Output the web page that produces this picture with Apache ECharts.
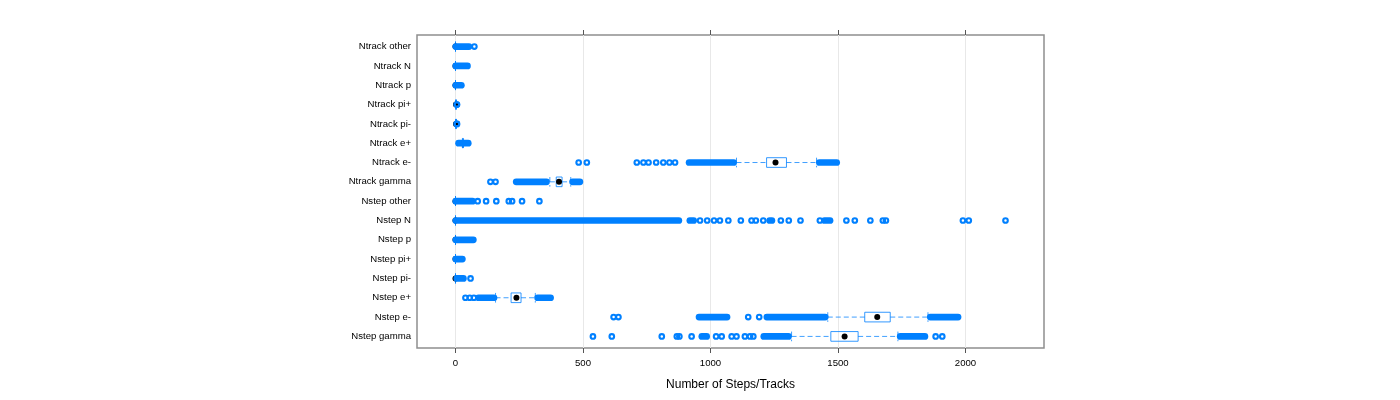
<!DOCTYPE html>
<html>
<head>
<meta charset="utf-8">
<script src="https://cdn.jsdelivr.net/npm/echarts@6/dist/echarts.min.js"></script>
<style>html,body{margin:0;padding:0;background:#fff}#c{width:1400px;height:400px}</style>
</head>
<body>
<div id="c"></div>
<script>
// ---- data ----
const categories = ['Ntrack other','Ntrack N','Ntrack p','Ntrack pi+','Ntrack pi-','Ntrack e+','Ntrack e-','Ntrack gamma',
  'Nstep other','Nstep N','Nstep p','Nstep pi+','Nstep pi-','Nstep e+','Nstep e-','Nstep gamma'];
const lowerWhisker = [0,0,0,0,0,27,1102,370,0,0,0,0,0,157,1460,1318];
const lowerHinge   = [0,0,0,1,1,28,1220,395,0,0,0,0,0,218,1605,1472];
const medians      = [0,0,0,2,2,29,1255,406,0,0,0,0,0,239,1654,1526];
const upperHinge   = [0,0,0,3,3,30,1298,418,0,0,0,0,0,257,1705,1579];
const upperWhisker = [0,0,0,4,4,31,1416,452,0,0,0,0,0,313,1853,1735];
// dense runs of overlapping outliers [from, to]
const outlierRuns = [
  [[1,53]], [[1,47]], [[1,23]], [], [], [[12,26],[32,50]],
  [[916,1091],[1427,1495]], [[238,357],[459,488]],
  [[1,67]], [[1,876],[919,934],[1232,1241],[1447,1469]],
  [[1,70]], [[1,27]], [[5,31]], [[90,151],[322,373]],
  [[955,1065],[1221,1450],[1862,1971]], [[966,985],[1209,1306],[1744,1841]]
];
// individually visible outliers
const outlierPoints = [
  [74], [], [], [5,6], [5,6], [],
  [483,515,711,737,757,787,815,839,861],
  [137,157],
  [87,120,160,209,222,261,329],
  [959,987,1014,1037,1070,1119,1161,1178,1207,1276,1307,1353,1429,1533,1566,1627,1676,1688,1990,2013,2157],
  [], [], [59], [39,56,72],
  [620,639,1148,1191],
  [539,613,809,868,878,926,1022,1044,1083,1102,1135,1155,1168,1883,1909]
];
const xTicks = [0,500,1000,1500,2000];
const xTitle = 'Number of Steps/Tracks';

// ---- build ----
const BLUE = '#0080ff';
const boxData = categories.map((c,i)=>[i+1, lowerWhisker[i], lowerHinge[i], medians[i], upperHinge[i], upperWhisker[i]]);
const runData = [];
outlierRuns.forEach((runs,i)=>runs.forEach(r=>runData.push([i+1, r[0], r[1]])));
const pointData = [];
outlierPoints.forEach((pts,i)=>pts.forEach(v=>pointData.push([v, i+1])));

const chart = echarts.init(document.getElementById('c'), null, {renderer:'canvas'});
const font = 'Liberation Sans, Arial, Helvetica, sans-serif';
const xAxisCommon = {type:'value', min:-151, max:2308, axisLine:{show:false}};
chart.setOption({
  animation:false,
  grid:{left:417, right:356, top:35, bottom:52, show:true, borderColor:'#8f8f8f', borderWidth:1.5, backgroundColor:'transparent'},
  xAxis:[
    Object.assign({}, xAxisCommon, {
      position:'bottom',
      name:xTitle, nameLocation:'middle', nameGap:31,
      nameTextStyle:{fontFamily:font, fontSize:12, color:'#000'},
      axisTick:{show:true, inside:false, length:5, customValues:xTicks, lineStyle:{color:'#555'}},
      axisLabel:{customValues:xTicks, margin:10, fontFamily:font, fontSize:9.6, color:'#000', formatter:v=>String(v)},
      splitLine:{show:true, lineStyle:{color:'#e8e8e8', width:1}}
    }),
    Object.assign({}, xAxisCommon, {
      position:'top',
      axisTick:{show:true, inside:false, length:5, customValues:xTicks, lineStyle:{color:'#555'}},
      axisLabel:{show:false, customValues:xTicks},
      splitLine:{show:false}
    })
  ],
  yAxis:{type:'value', min:0.4, max:16.6, inverse:true,
    axisLine:{show:false}, axisTick:{show:false}, splitLine:{show:false},
    axisLabel:{customValues:categories.map((c,i)=>i+1), margin:6, fontFamily:font, fontSize:9.6, color:'#000',
      formatter:v=>categories[Math.round(v)-1]}
  },
  series:[
    {
      type:'custom', z:2, xAxisIndex:0, data:boxData,
      renderItem:(params, api)=>{
        const row = api.value(0);
        const lw=api.coord([api.value(1),row]), q1=api.coord([api.value(2),row]),
              md=api.coord([api.value(3),row]), q3=api.coord([api.value(4),row]), uw=api.coord([api.value(5),row]);
        const h = api.size([0,1])[1]*0.5;
        const y = lw[1];
        const dash = {stroke:BLUE, lineWidth:1, lineDash:[5,3], opacity:0.75};
        return {type:'group', children:[
          {type:'line', shape:{x1:lw[0],y1:y,x2:q1[0],y2:y}, style:dash},
          {type:'line', shape:{x1:q3[0],y1:y,x2:uw[0],y2:y}, style:dash},
          {type:'line', shape:{x1:lw[0],y1:y-h/2,x2:lw[0],y2:y+h/2}, style:dash},
          {type:'line', shape:{x1:uw[0],y1:y-h/2,x2:uw[0],y2:y+h/2}, style:dash},
          {type:'rect', shape:{x:q1[0],y:y-h/2,width:q3[0]-q1[0],height:h}, style:{fill:'none',stroke:BLUE,lineWidth:1,opacity:0.8}},
          {type:'circle', shape:{cx:md[0],cy:y,r:3}, style:{fill:'#000'}}
        ]};
      }
    },
    {
      type:'custom', z:3, xAxisIndex:0, data:runData,
      renderItem:(params, api)=>{
        const row = api.value(0);
        const a=api.coord([api.value(1),row]), b=api.coord([api.value(2),row]);
        return {type:'line', shape:{x1:a[0],y1:a[1],x2:b[0],y2:b[1]}, style:{stroke:BLUE,lineWidth:6.7,lineCap:'round'}};
      }
    },
    {
      type:'scatter', z:4, xAxisIndex:0, data:pointData, symbol:'circle', symbolSize:4.6,
      itemStyle:{color:'rgba(0,0,0,0)', borderColor:BLUE, borderWidth:2.1, opacity:1},
      emphasis:{disabled:true}, silent:true
    }
  ]
});
</script>
</body>
</html>
